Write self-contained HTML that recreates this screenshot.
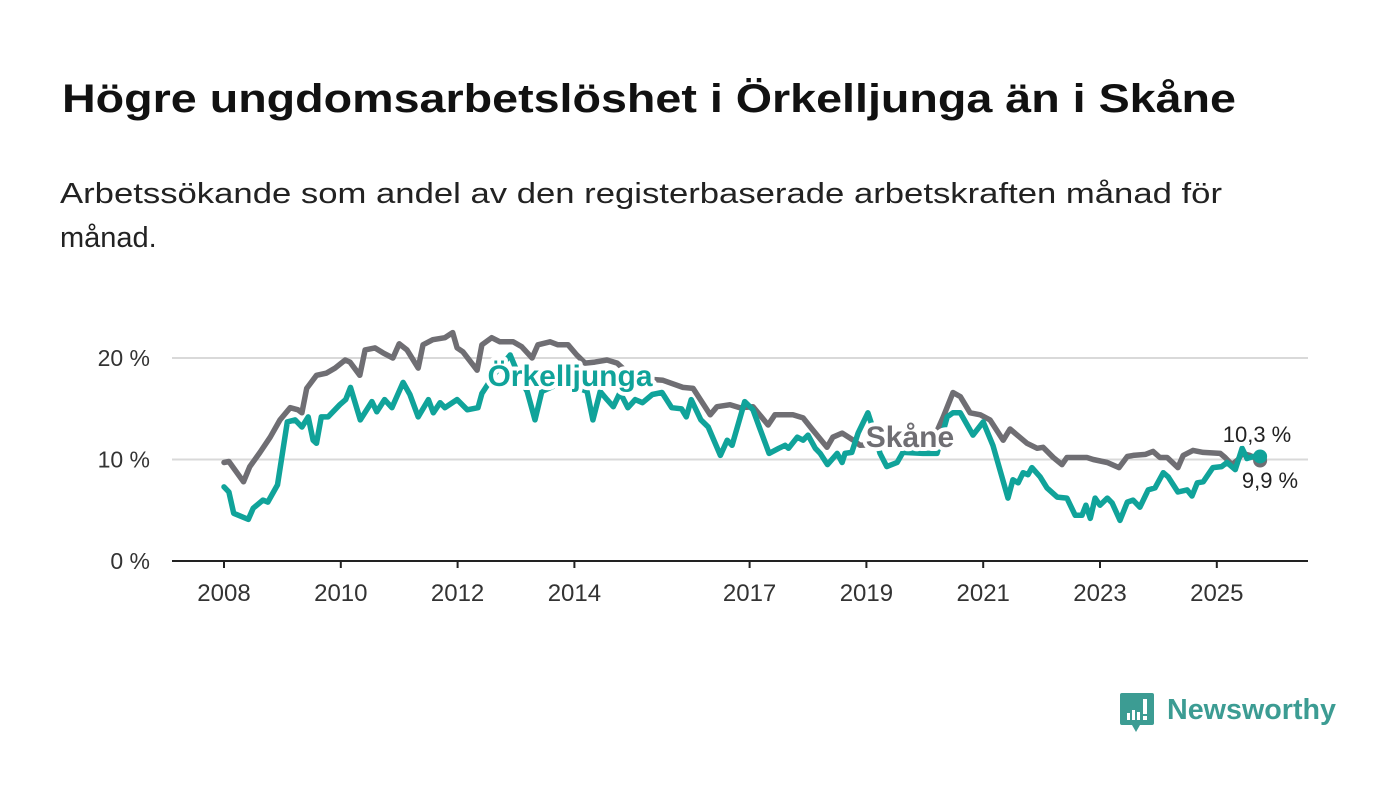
<!DOCTYPE html>
<html><head><meta charset="utf-8">
<style>
html,body{margin:0;padding:0;background:#fff;}
svg{display:block;font-family:"Liberation Sans",sans-serif;}
</style></head>
<body>
<svg id="chart" width="1400" height="794" viewBox="0 0 1400 794">
<text x="62" y="112" font-size="40" font-weight="bold" fill="#111" textLength="1174" lengthAdjust="spacingAndGlyphs">Högre ungdomsarbetslöshet i Örkelljunga än i Skåne</text>
<text x="60" y="203" font-size="29" fill="#222" textLength="1162" lengthAdjust="spacingAndGlyphs">Arbetssökande som andel av den registerbaserade arbetskraften månad för</text>
<text x="60" y="247" font-size="29" fill="#222">månad.</text>
<g id="grid"></g>
<g id="axes"></g>
<g id="series"></g>
<g id="labels"></g>
<g>
  <path d="M1122 693 h30 a2 2 0 0 1 2 2 v28 a2 2 0 0 1 -2 2 h-12 l-4 7 l-4 -7 h-10 a2 2 0 0 1 -2 -2 v-28 a2 2 0 0 1 2 -2z" fill="#3c9c93"/>
  <rect x="1127" y="713" width="3" height="7" fill="#fff"/><rect x="1132" y="710" width="3" height="10" fill="#fff"/><rect x="1137" y="712" width="3" height="8" fill="#fff"/><rect x="1143" y="699" width="4" height="15" fill="#fff"/><rect x="1143" y="716" width="4" height="4" fill="#fff"/>
  <text x="1167" y="719" font-size="29" font-weight="bold" fill="#3c9c93" textLength="169" lengthAdjust="spacingAndGlyphs">Newsworthy</text>
</g>
</svg>
<script>
const yTicks = [0, 10, 20];
const yTickLabels = ["0 %", "10 %", "20 %"];
const xTickYears = [2008, 2010, 2012, 2014, 2017, 2019, 2021, 2023, 2025];
// months since Jan 2008
const orkMonths = [0,1,2,5,6,8,9,11,13,14.6,16,17.3,18.3,19,20,21.4,23.8,25,26,28,30.4,31.4,33,34.5,36.8,38.2,39.9,42,43,44.4,45.4,47.9,50,52.2,53,55.7,58.8,60.8,62.3,63.9,65.3,69,72,74.6,75.8,77.3,78.7,80,81.4,83,84.5,86,88,90,92,94,95,96,98,99.5,102,103.4,104.4,107,108.7,110,112,114,115.3,116,117.8,119,120,121.5,122.5,124,126,127,127.6,129,130.3,132.3,133.4,134.8,136.2,138.3,139.5,143.6,146.5,148.6,149.8,151.3,153.9,156,158,161.1,162.1,163.2,164.2,165.2,166,167.7,169.1,171.2,173.2,174.9,176.3,177.1,178,179,180,181.5,182.5,184.1,185.6,186.8,188.2,189.9,191.3,193,194,196,197.9,198.9,200,201.2,203.2,205,206.1,207.8,209.2,210.2,211.5,212.9];
const orkValues = [7.3,6.8,4.7,4.1,5.2,6.0,5.8,7.5,13.7,13.9,13.2,14.2,11.9,11.6,14.2,14.2,15.4,15.9,17.1,13.9,15.7,14.7,15.9,15.1,17.6,16.4,14.2,15.9,14.6,15.6,15.1,15.9,14.9,15.1,16.5,18.5,20.3,18.0,16.7,13.9,16.7,17.5,17.2,16.7,13.9,16.7,15.9,15.2,16.6,15.1,15.9,15.6,16.4,16.6,15.1,15.0,14.2,15.9,13.9,13.2,10.4,11.9,11.4,15.7,14.9,13.2,10.6,11.1,11.4,11.1,12.2,11.9,12.4,11.1,10.6,9.5,10.6,9.7,10.6,10.7,12.6,14.6,13.0,10.6,9.3,9.7,10.7,10.6,10.6,14.2,14.6,14.6,12.4,13.7,11.4,6.2,8.0,7.7,8.7,8.5,9.2,8.3,7.2,6.3,6.2,4.5,4.5,5.5,4.2,6.2,5.5,6.2,5.7,4.0,5.8,6.0,5.3,7.0,7.2,8.7,8.3,6.8,7.0,6.4,7.7,7.8,9.2,9.3,9.7,9.0,11.1,10.1,10.3,10.3];
const skaMonths = [0,1,4,5.3,7.4,9.5,11.5,13.6,15.2,16,17,19,21,22.8,24.9,25.9,27.9,29,31,32.7,34.7,36,37.6,39.9,40.9,42.9,45.4,47,47.9,49.1,52,53,55,56.7,59.4,61.2,63.3,64.5,67,68.6,70.7,72.5,74.2,76.2,78.7,80.8,82.8,84.9,87.5,90.2,94.3,96.4,99.9,101.3,104,106,108.7,111.8,113.2,116.9,119,121,123.9,125.1,127,129.3,130.7,134.8,138.9,145,146.5,147.8,149.8,151.3,153.3,155.4,157.4,160.1,161.5,165,167.1,168.3,170.4,172.2,173.2,177.3,178.6,181.5,183.9,185.6,186.8,189.3,190.9,192.3,193.8,196,197.1,199.1,201.2,204.7,205.7,207.1,208.4,209.2,210.8,212.9];
const skaValues = [9.7,9.8,7.8,9.3,10.7,12.2,13.9,15.1,14.9,14.6,17.0,18.3,18.5,19.0,19.8,19.6,18.3,20.8,21.0,20.5,20.0,21.4,20.8,19.0,21.3,21.8,22.0,22.5,21.0,20.6,18.8,21.3,22.0,21.6,21.6,21.1,20.0,21.3,21.6,21.3,21.3,20.3,19.5,19.6,19.8,19.5,18.6,18.3,17.9,17.8,17.1,17.0,14.4,15.2,15.4,15.1,15.2,13.4,14.4,14.4,14.1,12.9,11.2,12.2,12.6,11.9,11.4,11.5,11.4,11.5,12.8,14.2,16.6,16.2,14.6,14.4,13.9,11.9,13.0,11.6,11.1,11.2,10.2,9.5,10.2,10.2,10.0,9.7,9.2,10.3,10.4,10.5,10.8,10.2,10.2,9.2,10.4,10.9,10.7,10.6,10.2,9.5,10.0,10.6,10.4,9.9];
const endLabels = ["10,3 %", "9,9 %"];

const NS = "http://www.w3.org/2000/svg";
const X0 = 224, PXY = 58.4, Y0 = 561, PXV = 10.15, L = 172, R = 1308;
const xOfMonth = m => X0 + m / 12 * PXY;
const xOfYear = yr => X0 + (yr - 2008) * PXY;
const yOf = v => Y0 - v * PXV;
function mk(tag, attrs, parent) {
  const e = document.createElementNS(NS, tag);
  for (const k in attrs) e.setAttribute(k, attrs[k]);
  parent.appendChild(e);
  return e;
}
const grid = document.getElementById('grid'), axes = document.getElementById('axes');
const series = document.getElementById('series'), labels = document.getElementById('labels');

yTicks.forEach((t, i) => {
  if (t !== 0) {
    const g = mk('line', {x1: L, x2: R, y1: yOf(t), y2: yOf(t), stroke: '#d9d9d9', 'stroke-width': 2}, grid);
    
    
  }
  const tx = mk('text', {x: 150, y: yOf(t) + 8, 'font-size': 23, fill: '#333', 'text-anchor': 'end'}, axes);
  tx.textContent = yTickLabels[i];
  
  
});
const ax = mk('line', {x1: L, x2: R, y1: Y0, y2: Y0, stroke: '#222', 'stroke-width': 2}, axes);


xTickYears.forEach(yr => {
  const x = xOfYear(yr);
  const tk = mk('line', {x1: x, x2: x, y1: Y0, y2: Y0 + 7, stroke: '#222', 'stroke-width': 2}, axes);
  
  
  const tx = mk('text', {x: x, y: 601, 'font-size': 24, fill: '#333', 'text-anchor': 'middle'}, axes);
  tx.textContent = yr;
  
  
});

function line(ms, vs, color, name) {
  const d = ms.map((m, i) => (i ? 'L' : 'M') + xOfMonth(m).toFixed(1) + ' ' + yOf(vs[i]).toFixed(1)).join(' ');
  const p = mk('path', {d: d, fill: 'none', stroke: color, 'stroke-width': 5.5, 'stroke-linejoin': 'round', 'stroke-linecap': 'round'}, series);
  
  
  const n = ms.length - 1;
  const c = mk('circle', {cx: xOfMonth(ms[n]), cy: yOf(vs[n]), r: 7, fill: color}, series);
  
  
}
line(skaMonths, skaValues, '#6f6e73', 'skane-line');
line(orkMonths, orkValues, '#10a39a', 'orkelljunga-line');

function lbl(x, y, txt, color, size, bold, name) {
  const halo = mk('text', {x: x, y: y, 'font-size': size, 'font-weight': bold ? 'bold' : 'normal', fill: '#fff', stroke: '#fff', 'stroke-width': 8, 'stroke-linejoin': 'round', 'text-anchor': 'middle'}, labels);
  halo.textContent = txt;
  
  
  const t = mk('text', {x: x, y: y, 'font-size': size, 'font-weight': bold ? 'bold' : 'normal', fill: color, 'text-anchor': 'middle'}, labels);
  t.textContent = txt;
  
  
}
lbl(570, 386, 'Örkelljunga', '#10a39a', 30, true, 'orkelljunga-label');
lbl(910, 447, 'Skåne', '#6f6e73', 30, true, 'skane-label');
lbl(1257, 442, endLabels[0], '#222', 22, false, 'orkelljunga-end-value');
lbl(1270, 488, endLabels[1], '#222', 22, false, 'skane-end-value');
</script>
</body></html>
